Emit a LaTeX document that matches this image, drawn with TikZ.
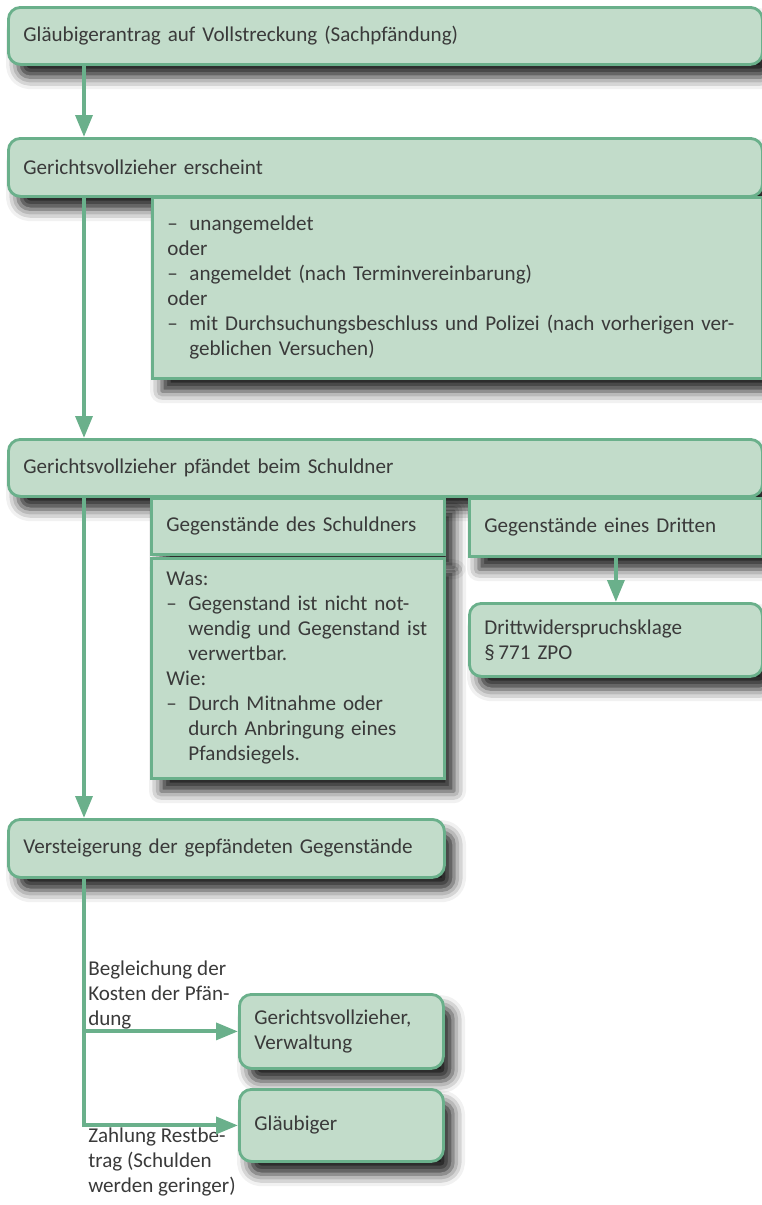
\documentclass[tikz,border=0pt]{standalone}
\usepackage{fontspec}
\setmainfont{Carlito}
\usepackage{xcolor}
\usepackage{tikz}
\usetikzlibrary{positioning,arrows.meta,shadows.blur,calc}
\definecolor{FlowFill}{HTML}{C2DCCA}
\definecolor{FlowLine}{HTML}{6AB08B}
\definecolor{TextGrey}{HTML}{3A3A3A}
\newcommand{\strich}{\makebox[0.55cm][l]{--}}
\newcommand{\einzug}{\hspace*{0.55cm}}

\begin{document}
\begin{tikzpicture}[every node/.style={font=\fontsize{15}{17.8}\selectfont, text=TextGrey},
          kasten/.style={draw=FlowLine, fill=FlowFill, line width=2pt, inner xsep=0.375cm,
            inner ysep=0pt, align=left, anchor=north west, text width=#1,
            blur shadow={shadow xshift=0.24cm, shadow yshift=-0.32cm,
              shadow blur radius=0.3cm, shadow opacity=88}},
          rund/.style={kasten=#1, rounded corners=0.3cm},
          beschr/.style={align=left, inner xsep=0.1cm, inner ysep=0.05cm},
          ar/.style={-{Triangle[length=0.55cm,width=0.42cm]}, FlowLine, line width=0.1cm}]
        \useasboundingbox (0,0) rectangle (19.05,-30.125);
        \coordinate (stamm) at (2.1,0);
        \node[rund=18.1cm, minimum height=1.425cm] (antrag) at (0.175,-0.15)
        {Gläubigerantrag auf Vollstreckung (Sachpfändung)};
        \node[rund=18.1cm, minimum height=1.45cm] (erscheint) at (0.175,-3.425)
        {Gerichtsvollzieher erscheint};
        \node[kasten=14.5cm, minimum height=4.525cm] (arten) at (3.775,-4.9)
        {\strich unangemeldet\\
          oder\\
          \strich angemeldet (nach Terminvereinbarung)\\
          oder\\
          \strich mit Durchsuchungsbeschluss und Polizei (nach vorherigen ver-\\
          \einzug geblichen Versuchen)};
        \node[rund=18.1cm, minimum height=1.425cm] (pfaendet) at (0.175,-10.95)
        {Gerichtsvollzieher pfändet beim Schuldner};
        \node[kasten=6.575cm, minimum height=1.4cm] (schuldner) at (3.75,-12.425)
        {Gegenstände des Schuldners};
        \node[kasten=6.575cm, minimum height=5.5cm] (wasWie) at (3.75,-13.925)
        {Was:\\
          \strich Gegenstand ist nicht not-\\
          \einzug wendig und Gegenstand ist\\
          \einzug verwertbar.\\
          Wie:\\
          \strich Durch Mitnahme oder\\
          \einzug durch Anbringung eines\\
          \einzug Pfandsiegels.};
        \node[kasten=6.575cm, minimum height=1.45cm] (dritter) at (11.7,-12.425)
        {Gegenstände eines Dritten};
        \node[rund=6.575cm, minimum height=1.825cm] (klage) at (11.7,-15.05)
        {Drittwiderspruchsklage\\ \S\,771 ZPO};
        \node[rund=10.15cm, minimum height=1.45cm] (versteigerung) at (0.175,-20.45)
        {Versteigerung der gepfändeten Gegenstände};
        \node[rund=4.35cm, minimum height=1.85cm] (vollzieher) at (5.95,-24.825)
        {Gerichtsvollzieher,\\ Verwaltung};
        \node[rund=4.35cm, minimum height=1.8cm] (glaeubiger) at (5.95,-27.2)
        {Gläubiger};
        \node[beschr, anchor=south west] (kosten) at (vollzieher.west -| stamm)
        {Begleichung der\\ Kosten der Pfän-\\ dung};
        \node[beschr, anchor=north west] (rest) at (glaeubiger.west -| stamm)
        {Zahlung Restbe-\\ trag (Schulden\\ werden geringer)};
        \draw[ar](antrag.south -| stamm)--(erscheint.north -| stamm);
        \draw[ar](erscheint.south -| stamm)--(pfaendet.north -| stamm);
        \draw[ar](pfaendet.south -| stamm)--(versteigerung.north -| stamm);
        \draw[ar](dritter)--(klage);
        \draw[ar](versteigerung.south -| stamm)|-(glaeubiger.west);
        \draw[ar](vollzieher.west -| stamm)--(vollzieher.west);
      \end{tikzpicture}
\end{document}
